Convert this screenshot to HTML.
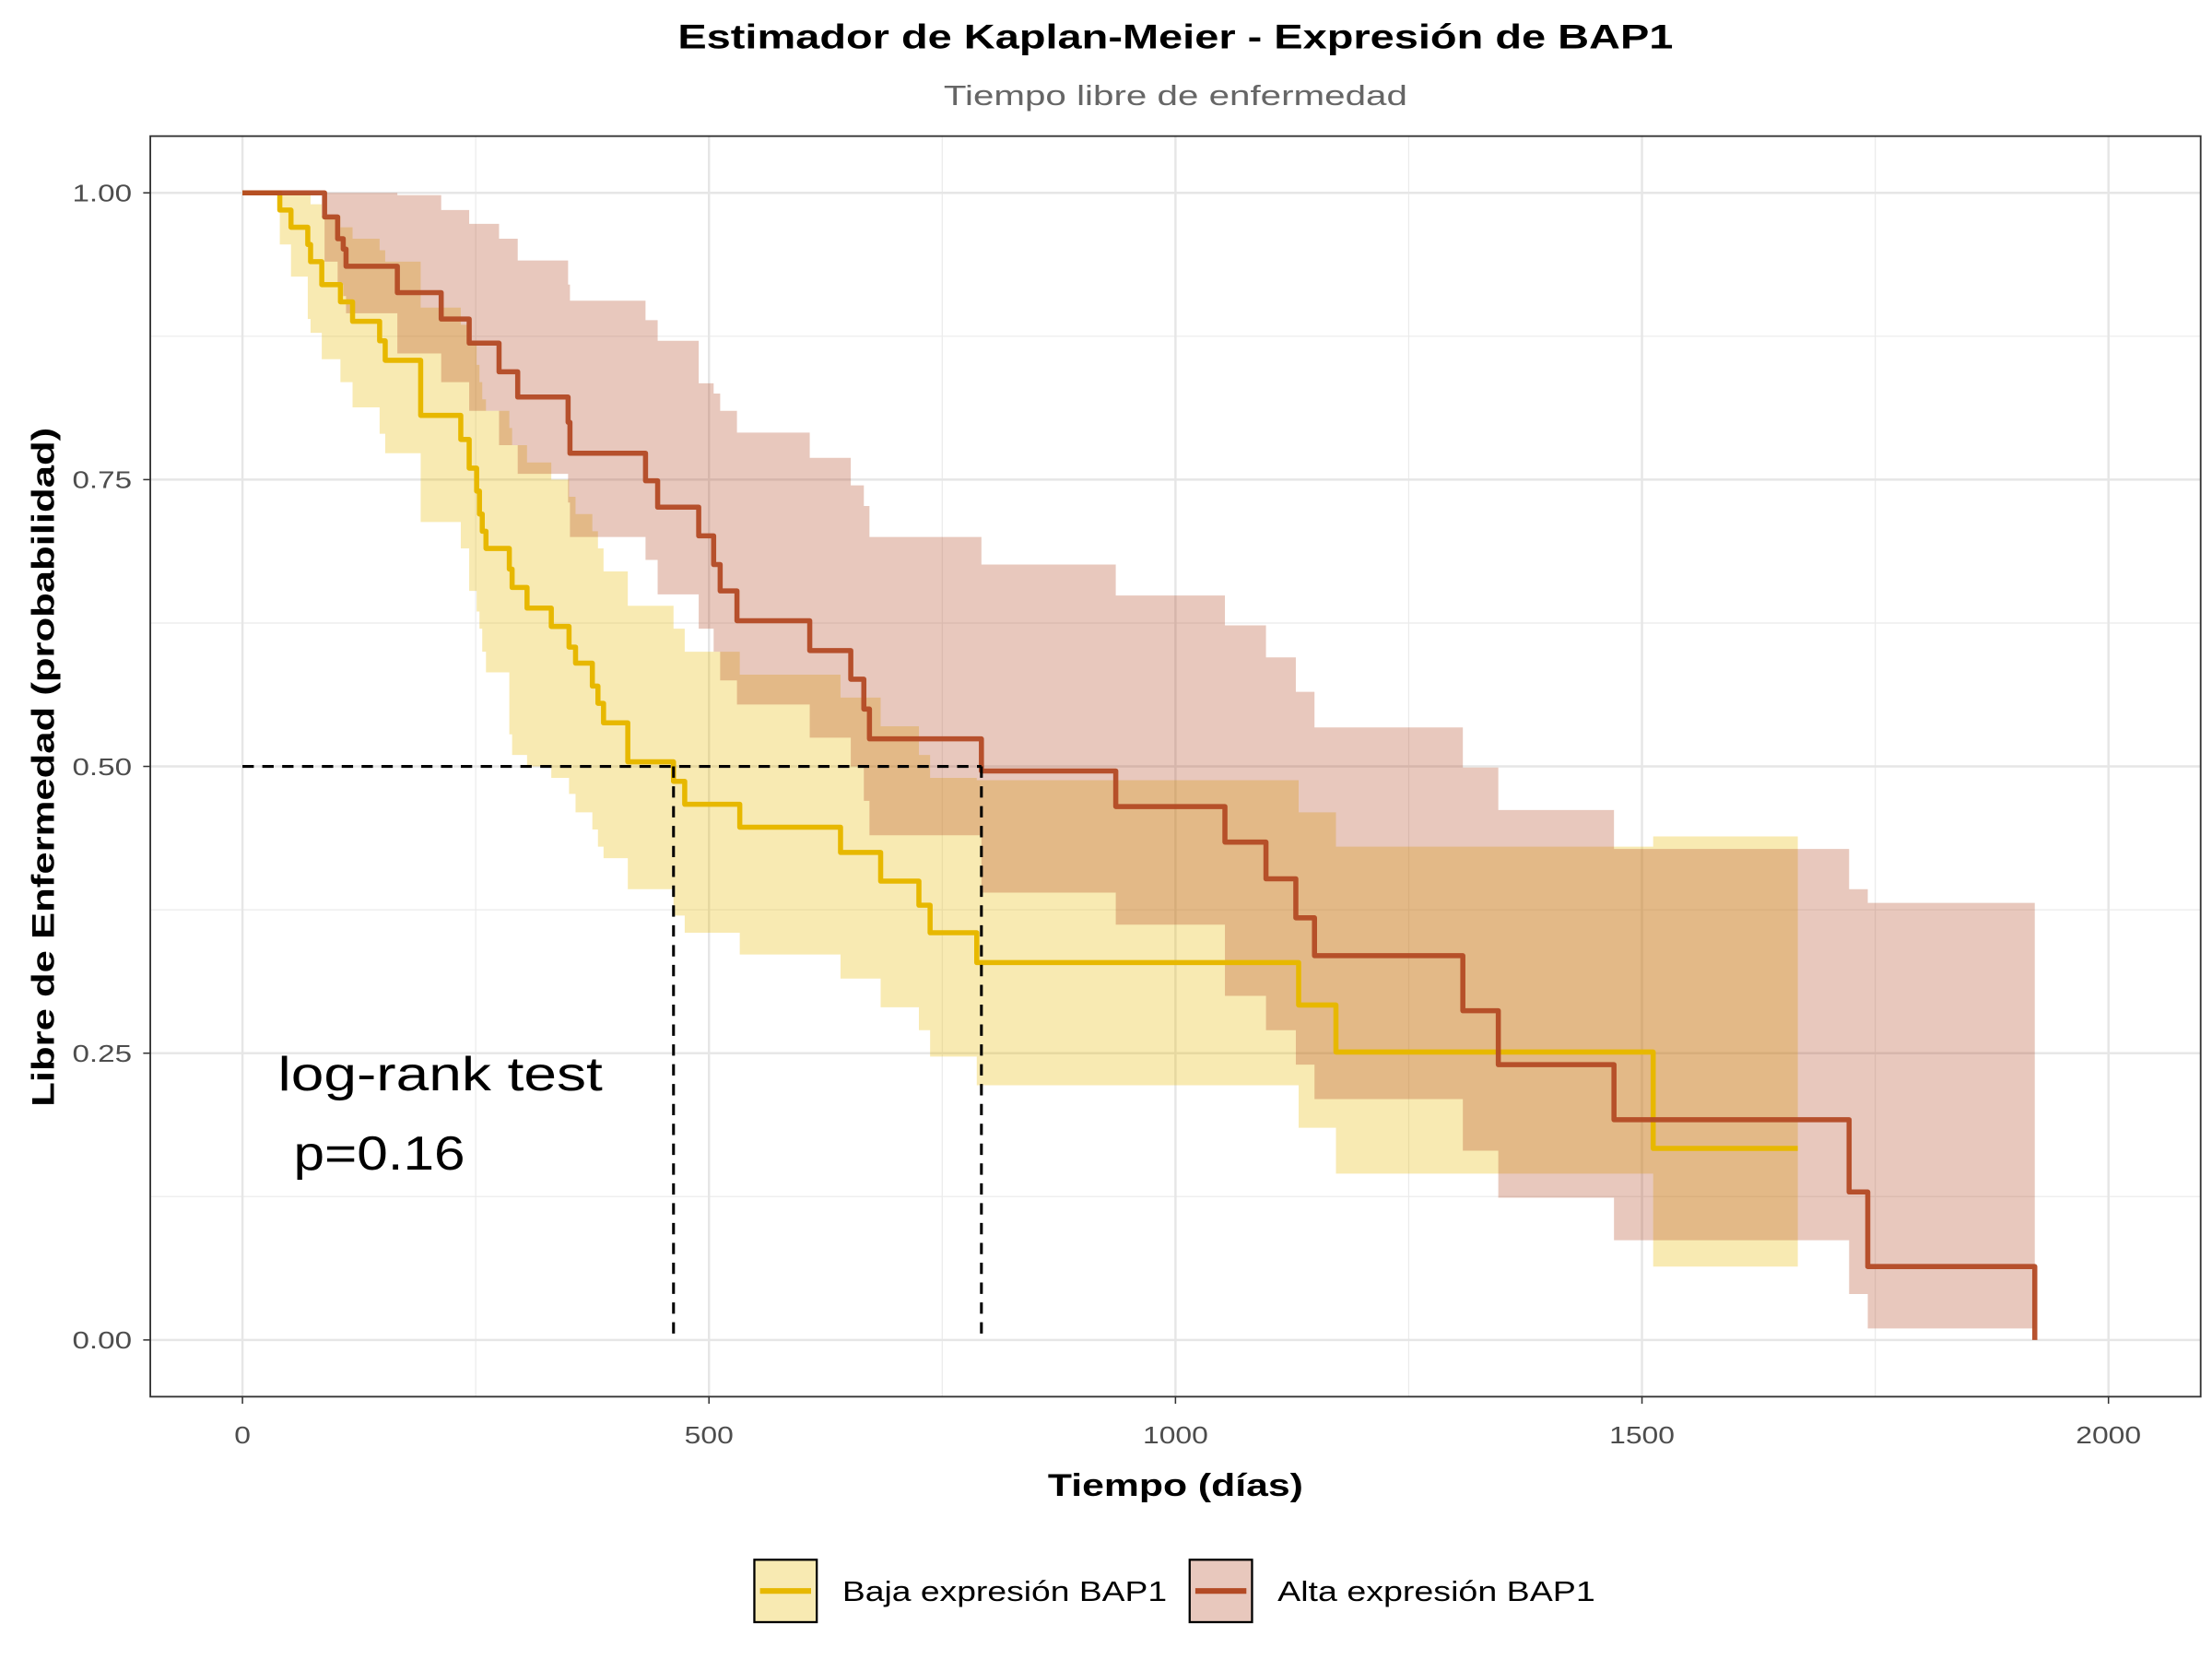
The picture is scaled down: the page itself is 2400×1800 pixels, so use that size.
<!DOCTYPE html>
<html><head><meta charset="utf-8"><style>
html,body{margin:0;padding:0;background:#fff;}
svg{display:block;font-family:"Liberation Sans","DejaVu Sans",sans-serif;}
</style></head><body>
<svg id="chart" width="2400" height="1800" viewBox="0 0 1560 1170" xmlns="http://www.w3.org/2000/svg">
<rect width="1560" height="1170" fill="#fff"/>
<text x="829" y="34" text-anchor="middle" font-size="24" font-weight="bold" fill="#000" textLength="702" lengthAdjust="spacingAndGlyphs">Estimador de Kaplan-Meier - Expresión de BAP1</text>
<text x="829" y="74" text-anchor="middle" font-size="20" fill="#666" textLength="327" lengthAdjust="spacingAndGlyphs">Tiempo libre de enfermedad</text>
<g id="grid"></g>
<g id="bands"></g>
<g id="lines"></g>
<g id="median"></g>
<rect x="106" y="96" width="1446" height="889" fill="none" stroke="#333" stroke-width="1.2"/>
<g id="axes"></g>
<text x="196" y="769" font-size="34" fill="#000" textLength="229" lengthAdjust="spacingAndGlyphs">log-rank test</text>
<text x="207" y="825" font-size="34" fill="#000" textLength="121" lengthAdjust="spacingAndGlyphs">p=0.16</text>
<text x="829" y="1055" text-anchor="middle" font-size="22" font-weight="bold" fill="#000" textLength="180" lengthAdjust="spacingAndGlyphs">Tiempo (días)</text>
<text transform="translate(38,541) rotate(-90)" text-anchor="middle" font-size="22" font-weight="bold" fill="#000" textLength="479" lengthAdjust="spacingAndGlyphs">Libre de Enfermedad (probabilidad)</text>
<g>
<g>
<rect x="532" y="1100" width="44" height="44" fill="rgba(231,184,0,0.3)" stroke="#000" stroke-width="1.5"/>
<line x1="536" y1="1122" x2="572" y2="1122" stroke="#E7B800" stroke-width="4"/>
<text x="594" y="1129" font-size="20" fill="#000" textLength="229" lengthAdjust="spacingAndGlyphs">Baja expresión BAP1</text></g>
<g>
<rect x="839" y="1100" width="44" height="44" fill="rgba(179,74,36,0.3)" stroke="#000" stroke-width="1.5"/>
<line x1="843" y1="1122" x2="879" y2="1122" stroke="#B34A24" stroke-width="4"/>
<text x="901" y="1129" font-size="20" fill="#000" textLength="224" lengthAdjust="spacingAndGlyphs">Alta expresión BAP1</text></g>
</g>
</svg>
<script>
const bajaTimes=[0,40,52,70,73,85,105,118,147,153,191,234,243,251,254,257,261,286,289,305,331,350,357,375,381,387,413,462,474,533,641,684,725,737,787,1132,1172,1512];
const bajaSurv=[1,0.985,0.97,0.955,0.94,0.92,0.905,0.888,0.871,0.854,0.806,0.785,0.76,0.74,0.72,0.705,0.69,0.672,0.656,0.638,0.622,0.604,0.59,0.57,0.555,0.538,0.504,0.487,0.467,0.447,0.425,0.40,0.379,0.355,0.329,0.292,0.251,0.167];
const bajaUpper=[1,1,1,1,0.99,0.98,0.97,0.96,0.95,0.94,0.90,0.885,0.87,0.85,0.835,0.82,0.81,0.795,0.78,0.765,0.75,0.735,0.72,0.705,0.69,0.67,0.64,0.62,0.60,0.58,0.56,0.535,0.51,0.49,0.488,0.46,0.43,0.439];
const bajaLower=[1,0.955,0.927,0.89,0.878,0.855,0.835,0.813,0.79,0.773,0.713,0.69,0.653,0.635,0.62,0.60,0.582,0.528,0.51,0.50,0.49,0.476,0.46,0.445,0.43,0.42,0.393,0.37,0.355,0.336,0.315,0.29,0.27,0.247,0.222,0.185,0.145,0.064];
const bajaEnd=1667;
const altaTimes=[0,88,102,108,111,166,213,243,275,295,349,351,432,445,489,505,512,530,608,652,666,672,792,936,1053,1097,1129,1149,1308,1346,1470,1722,1742,1921];
const altaSurv=[1,0.979,0.96,0.951,0.936,0.913,0.89,0.869,0.844,0.822,0.80,0.773,0.749,0.726,0.701,0.676,0.653,0.627,0.601,0.576,0.55,0.524,0.496,0.465,0.434,0.402,0.368,0.335,0.287,0.24,0.192,0.129,0.064,0];
const altaUpper=[1,1,1,1,1,0.998,0.985,0.973,0.96,0.941,0.92,0.906,0.889,0.871,0.834,0.825,0.81,0.791,0.769,0.745,0.727,0.70,0.676,0.649,0.623,0.595,0.565,0.534,0.499,0.462,0.428,0.393,0.381,0.381];
const altaLower=[1,0.94,0.92,0.91,0.895,0.86,0.835,0.81,0.78,0.755,0.73,0.70,0.68,0.65,0.62,0.60,0.575,0.554,0.525,0.50,0.47,0.44,0.39,0.362,0.30,0.27,0.24,0.21,0.165,0.124,0.087,0.04,0.01,0.01];
const altaEnd=1921;
const xTicks=[0,500,1000,1500,2000];
const xMinor=[250,750,1250,1750];
const yTicks=[0,0.25,0.5,0.75,1];
const yTickLabels=["0.00","0.25","0.50","0.75","1.00"];
const yMinor=[0.125,0.375,0.625,0.875];
const medianTimes=[462,792];
const medianLevel=0.5;

const X=t=>171+t*0.658;
const Y=s=>945-s*809;
const NS="http://www.w3.org/2000/svg";
function mk(tag,attrs,parent){const e=document.createElementNS(NS,tag);for(const k in attrs)e.setAttribute(k,attrs[k]);parent.appendChild(e);return e;}
const grid=document.getElementById('grid'),axes=document.getElementById('axes');
xMinor.forEach(v=>{const l=mk('line',{x1:X(v),x2:X(v),y1:96,y2:985,stroke:'#ebebeb','stroke-width':0.8},grid);});
yMinor.forEach(v=>{const l=mk('line',{x1:106,x2:1552,y1:Y(v),y2:Y(v),stroke:'#ebebeb','stroke-width':0.8},grid);});
xTicks.forEach(v=>{const l=mk('line',{x1:X(v),x2:X(v),y1:96,y2:985,stroke:'#e6e6e6','stroke-width':1.6},grid);
const t=mk('line',{x1:X(v),x2:X(v),y1:985,y2:990,stroke:'#333','stroke-width':1},axes);
const s=String(v);
const tx=mk('text',{x:X(v),y:1018,'text-anchor':'middle','font-size':17,fill:'#4d4d4d',textLength:s.length*11.5,lengthAdjust:'spacingAndGlyphs'},axes);tx.textContent=s;});
yTicks.forEach((v,i)=>{const l=mk('line',{x1:106,x2:1552,y1:Y(v),y2:Y(v),stroke:'#e6e6e6','stroke-width':1.6},grid);
const t=mk('line',{x1:101,x2:106,y1:Y(v),y2:Y(v),stroke:'#333','stroke-width':1},axes);
const tx=mk('text',{x:93,y:Y(v)+6,'text-anchor':'end','font-size':17,fill:'#4d4d4d',textLength:42,lengthAdjust:'spacingAndGlyphs'},axes);tx.textContent=yTickLabels[i];});

function bandPath(times,up,lo,end){let p='';for(let i=0;i<times.length;i++){const t2=i+1<times.length?times[i+1]:end;p+=(i?'L':'M')+X(times[i])+','+Y(up[i])+'L'+X(t2)+','+Y(up[i]);}
for(let i=times.length-1;i>=0;i--){const t2=i+1<times.length?times[i+1]:end;p+='L'+X(t2)+','+Y(lo[i])+'L'+X(times[i])+','+Y(lo[i]);}return p+'Z';}
function linePath(times,s,end){let p='M'+X(times[0])+','+Y(s[0]);for(let i=1;i<times.length;i++){p+='L'+X(times[i])+','+Y(s[i-1])+'L'+X(times[i])+','+Y(s[i]);}p+='L'+X(end)+','+Y(s[s.length-1]);return p;}
const bands=document.getElementById('bands'),lines=document.getElementById('lines');
const b1=mk('path',{d:bandPath(bajaTimes,bajaUpper,bajaLower,bajaEnd),fill:'#E7B800','fill-opacity':0.3},bands);


const b2=mk('path',{d:bandPath(altaTimes,altaUpper,altaLower,altaEnd),fill:'#B34A24','fill-opacity':0.3},bands);


const l1=mk('path',{d:linePath(bajaTimes,bajaSurv,bajaEnd),fill:'none',stroke:'#E7B800','stroke-width':3.6,'stroke-linejoin':'round'},lines);


const l2=mk('path',{d:linePath(altaTimes,altaSurv,altaEnd),fill:'none',stroke:'#B34A24','stroke-width':3.6,'stroke-linejoin':'round','stroke-opacity':0.95},lines);


const med=document.getElementById('median');
const mh=mk('line',{x1:X(0),x2:X(Math.max(...medianTimes)),y1:Y(medianLevel),y2:Y(medianLevel),stroke:'#000','stroke-width':2,'stroke-dasharray':'8,6'},med);


medianTimes.forEach(t=>{const v=mk('line',{x1:X(t),x2:X(t),y1:Y(medianLevel),y2:Y(0),stroke:'#000','stroke-width':2,'stroke-dasharray':'8,6'},med);

});
</script>
</body></html>
